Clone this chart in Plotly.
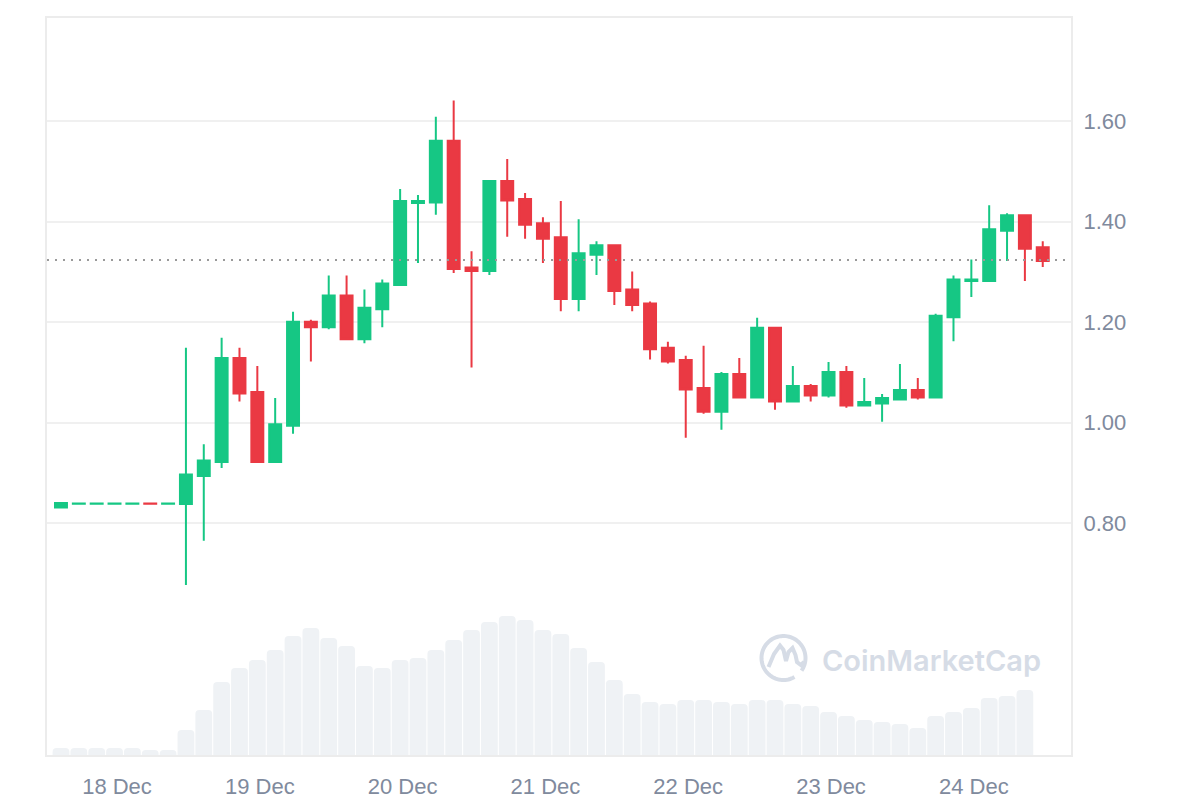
import numpy as np
import pandas as pd
import plotly.graph_objects as go

# ---------------- data ----------------
times = pd.date_range("2023-12-17 14:35", periods=56, freq="3h")

open_ = [0.831, 0.8388, 0.8388, 0.8388, 0.8388, 0.8390, 0.8388,
         0.838, 0.894, 0.922, 1.129, 1.061, 0.922, 0.994, 1.201, 1.190,
         1.253, 1.166, 1.226, 1.274, 1.437, 1.438, 1.561, 1.309, 1.302,
         1.481, 1.445, 1.397, 1.369, 1.246, 1.334, 1.353, 1.265, 1.237,
         1.149, 1.125, 1.069, 1.022, 1.097, 1.050, 1.189, 1.042, 1.073,
         1.054, 1.101, 1.034, 1.038, 1.046, 1.065, 1.050, 1.210, 1.282,
         1.282, 1.382, 1.413, 1.349]
high = [0.841, 0.8390, 0.8390, 0.8390, 0.8390, 0.8390, 0.8390,
        1.149, 0.957, 1.169, 1.149, 1.113, 1.049, 1.221, 1.205, 1.293,
        1.293, 1.265, 1.285, 1.465, 1.453, 1.609, 1.641, 1.341, 1.481,
        1.525, 1.457, 1.409, 1.441, 1.405, 1.361, 1.355, 1.301, 1.241,
        1.161, 1.133, 1.153, 1.101, 1.129, 1.209, 1.189, 1.113, 1.077,
        1.121, 1.113, 1.089, 1.057, 1.117, 1.089, 1.217, 1.293, 1.325,
        1.433, 1.417, 1.413, 1.361]
low = [0.831, 0.8388, 0.8388, 0.8388, 0.8388, 0.8388, 0.8388,
       0.677, 0.765, 0.910, 1.042, 0.922, 0.922, 0.978, 1.122, 1.186,
       1.166, 1.158, 1.190, 1.274, 1.318, 1.414, 1.298, 1.110, 1.294,
       1.370, 1.366, 1.318, 1.222, 1.222, 1.294, 1.234, 1.222, 1.126,
       1.118, 0.970, 1.018, 0.986, 1.050, 1.050, 1.026, 1.042, 1.042,
       1.050, 1.030, 1.034, 1.002, 1.046, 1.046, 1.050, 1.162, 1.250,
       1.282, 1.322, 1.282, 1.310]
close = [0.840, 0.8390, 0.8390, 0.8390, 0.8390, 0.8388, 0.8390,
         0.897, 0.925, 1.129, 1.058, 0.922, 0.997, 1.201, 1.190, 1.253,
         1.166, 1.229, 1.277, 1.441, 1.441, 1.561, 1.306, 1.302, 1.481,
         1.442, 1.394, 1.366, 1.246, 1.337, 1.353, 1.262, 1.234, 1.146,
         1.122, 1.066, 1.022, 1.097, 1.050, 1.189, 1.042, 1.073, 1.054,
         1.101, 1.034, 1.041, 1.049, 1.065, 1.050, 1.213, 1.285, 1.285,
         1.385, 1.413, 1.346, 1.322]
# volume (millions, arbitrary units), last candle has no volume bar
volume = [0.7, 0.7, 0.7, 0.7, 0.7, 0.5, 0.5, 2.5, 4.5, 7.3, 8.7, 9.5, 10.5,
          11.9, 12.7, 11.7, 10.9, 8.9, 8.7, 9.5, 9.7, 10.5, 11.5, 12.5, 13.3,
          13.9, 13.5, 12.5, 12.1, 10.7, 9.3, 7.5, 6.1, 5.3, 5.1, 5.5, 5.5,
          5.3, 5.1, 5.5, 5.5, 5.1, 4.9, 4.3, 3.9, 3.5, 3.3, 3.1, 2.7, 3.9,
          4.3, 4.7, 5.7, 5.9, 6.5]
current_price = 1.3236

y_ticks = [0.80, 1.00, 1.20, 1.40, 1.60]
x_tick_dates = ["2023-12-18", "2023-12-19", "2023-12-20", "2023-12-21",
                "2023-12-22", "2023-12-23", "2023-12-24"]
x_tick_labels = ["18 Dec", "19 Dec", "20 Dec", "21 Dec", "22 Dec", "23 Dec", "24 Dec"]

GREEN = "#16c784"
RED = "#ea3943"
TEXT = "#808a9d"
FONT = "Liberation Sans, Arial, sans-serif"

# plot-area geometry (pixels) used only for the decorative watermark
PL, PR, PT, PB = 47, 1071, 18, 755


def px2paper(px, py):
    return (px - PL) / (PR - PL), (PB - py) / (PB - PT)


fig = go.Figure()

fig.add_trace(go.Bar(
    x=times[:len(volume)], y=volume, yaxis="y2",
    marker=dict(color="#eff2f5", cornerradius=4, line=dict(width=0)),
    hoverinfo="skip", showlegend=False,
))

fig.add_trace(go.Candlestick(
    x=times, open=open_, high=high, low=low, close=close,
    increasing=dict(line=dict(color=GREEN, width=2), fillcolor=GREEN),
    decreasing=dict(line=dict(color=RED, width=2), fillcolor=RED),
    whiskerwidth=0, showlegend=False,
))

# current price dotted line
fig.add_shape(type="line", xref="paper", x0=0, x1=1, yref="y",
              y0=current_price, y1=current_price,
              line=dict(color="#9a9a9a", width=2, dash="2px,6px"))

# ---- watermark logo ----
cx, cy, r = 783.5, 658, 22
th = np.radians(np.linspace(-35, 300, 80))
ring = [px2paper(cx + r * np.cos(t), cy - r * np.sin(t)) for t in th]
path = "M " + " L ".join(f"{a:.5f},{b:.5f}" for a, b in ring)
fig.add_shape(type="path", xref="paper", yref="paper", path=path,
              line=dict(color="#d6dce6", width=4))
m_pts = [(768.5, 667), (774, 654), (780, 645.5), (783.5, 650), (786, 661),
         (788.5, 652), (792.5, 648), (795.5, 655), (797, 662), (801, 665), (804, 662)]
m_pp = [px2paper(a, b) for a, b in m_pts]
mpath = "M " + " L ".join(f"{a:.5f},{b:.5f}" for a, b in m_pp)
fig.add_shape(type="path", xref="paper", yref="paper", path=mpath,
              line=dict(color="#d6dce6", width=4))

wx, wy = px2paper(820, 660)
fig.add_annotation(text="CoinMarketCap", xref="paper", yref="paper",
                   x=wx, y=wy, xanchor="left", yanchor="middle", showarrow=False,
                   font=dict(family="Inter, Noto Sans, sans-serif", size=29,
                             color="#d6dce6", weight=600))

t0 = times[0]
x_range = [t0 - pd.Timedelta(hours=2.35), t0 + pd.Timedelta(hours=169.75)]

fig.update_layout(
    width=1200, height=800,
    margin=dict(l=PL, r=1200 - PR, t=PT, b=800 - PB),
    paper_bgcolor="white", plot_bgcolor="white",
    boxgap=0.33, boxgroupgap=0, bargap=0.06,
    font=dict(family=FONT, color=TEXT, size=22),
    xaxis=dict(
        type="date", range=x_range, rangeslider=dict(visible=False),
        tickvals=pd.to_datetime(x_tick_dates), ticktext=x_tick_labels,
        showgrid=False, zeroline=False,
        showline=True, mirror=True, linecolor="#ececec", linewidth=2,
        ticks="outside", ticklen=11, tickcolor="rgba(0,0,0,0)",
        tickfont=dict(size=22, color=TEXT), automargin=False,
    ),
    yaxis=dict(
        side="right", range=[0.3387, 1.8054], tickvals=y_ticks,
        ticktext=[f"{v:.2f}" for v in y_ticks],
        showgrid=True, gridcolor="#f0f0f0", gridwidth=2, zeroline=False,
        showline=True, mirror=True, linecolor="#ececec", linewidth=2,
        ticks="outside", ticklen=6, tickcolor="rgba(0,0,0,0)",
        tickfont=dict(size=22, color=TEXT), automargin=False,
    ),
    yaxis2=dict(overlaying="y", range=[0, 73.7], visible=False, showgrid=False),
    hovermode=False,
)

fig.write_html("out.html")
